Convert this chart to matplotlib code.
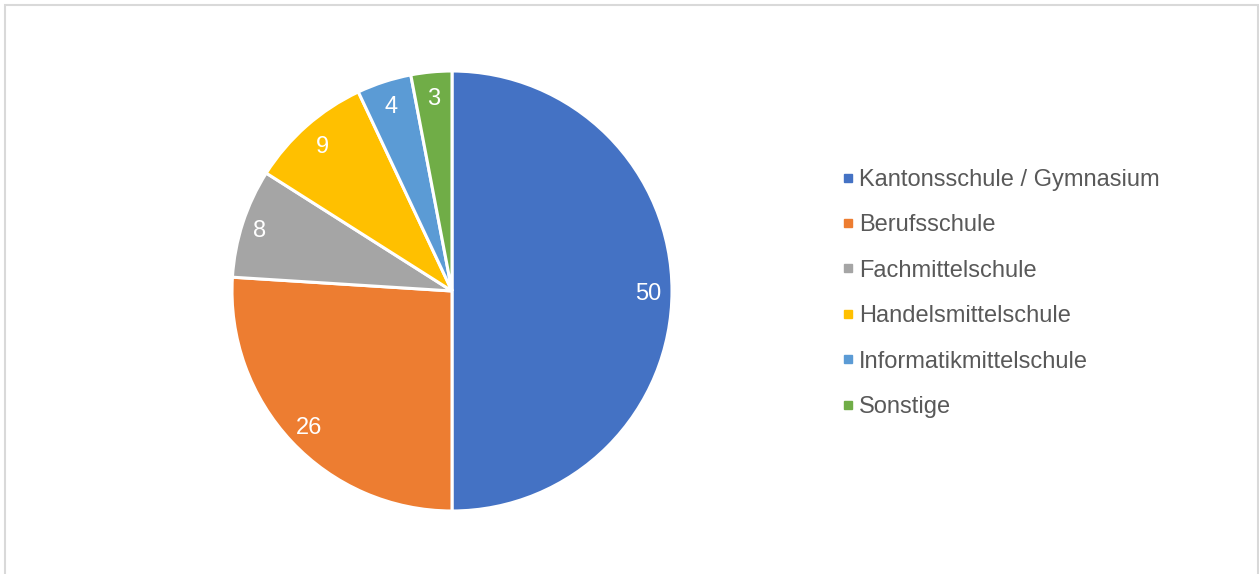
import matplotlib.pyplot as plt
from matplotlib.lines import Line2D
from matplotlib.patches import Rectangle

plt.rcParams['font.family'] = ['Liberation Sans', 'DejaVu Sans']

categories = ["Kantonsschule / Gymnasium", "Berufsschule", "Fachmittelschule",
              "Handelsmittelschule", "Informatikmittelschule", "Sonstige"]
values = [50, 26, 8, 9, 4, 3]
colors = ["#4472C4", "#ED7D31", "#A5A5A5", "#FFC000", "#5B9BD5", "#70AD47"]

W, H = 1259, 574
fig = plt.figure(figsize=(W / 100, H / 100), dpi=100)

# rahmen um das diagramm
fig.add_artist(Rectangle((5 / W, -0.05), 1253 / W, 1.05 - 5 / H, transform=fig.transFigure,
                         fill=False, edgecolor="#D9D9D9", linewidth=1.5))

ax = fig.add_axes([232 / W, 63 / H, 440 / W, 440 / H])
wedges, texts = ax.pie(values, labels=[str(v) for v in values], colors=colors,
                       startangle=90, counterclock=False, labeldistance=0.89,
                       wedgeprops=dict(edgecolor="white", linewidth=2.2),
                       textprops=dict(color="white", fontsize=17))
for t in texts:
    t.set_ha("center")
    t.set_va("center_baseline")
# label "8" sitzt etwas weiter aussen
x, y = texts[2].get_position()
texts[2].set_position((x * 0.92 / 0.89, y * 0.92 / 0.89))
ax.set_xlim(-1, 1)
ax.set_ylim(-1, 1)
ax.set_aspect("equal")

handles = [Line2D([], [], marker="s", ls="", color=c, markersize=6) for c in colors]
leg = fig.legend(handles, categories, loc="upper left", bbox_to_anchor=(843 / W, 1 - 169 / H),
                 frameon=False, fontsize=17, labelspacing=0.99, handlelength=0.4,
                 handletextpad=0.27, borderpad=0, borderaxespad=0)
for t in leg.get_texts():
    t.set_color("#595959")

fig.savefig("out.png", dpi=100)
